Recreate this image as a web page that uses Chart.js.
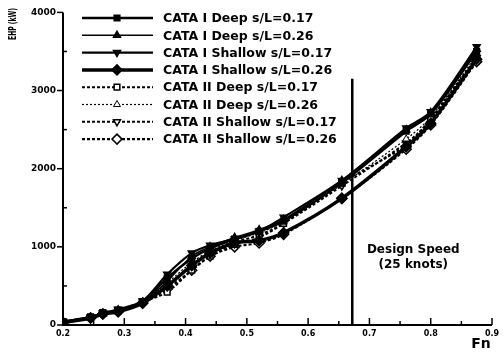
<!DOCTYPE html>
<html>
<head>
<meta charset="utf-8">
<script src="https://cdn.jsdelivr.net/npm/chart.js@4"></script>
<style>
  html, body { margin: 0; padding: 0; background: #fff; }
  #wrap { width: 504px; height: 353px; }
</style>
</head>
<body>
<div id="wrap"><canvas id="ehpChart" width="504" height="353"></canvas></div>
<script>
// Froude numbers where each hull was measured
const fnValues = [0.2, 0.245, 0.265, 0.29, 0.33, 0.37, 0.41, 0.44, 0.48, 0.52, 0.56, 0.655, 0.76, 0.8, 0.875];

// EHP (kW) per configuration
const cataIDeep17    = [40, 100, 150, 180, 300, 600, 850, 980, 1100, 1200, 1330, 1820, 2480, 2700, 3500];
const cataIDeep26    = [40, 95, 145, 190, 290, 560, 880, 1000, 1120, 1220, 1350, 1850, 2500, 2720, 3530];
const cataIShal17    = [45, 100, 150, 200, 310, 650, 920, 1020, 1100, 1200, 1380, 1850, 2520, 2730, 3560];
const cataIShal26    = [30, 90, 140, 170, 280, 500, 760, 920, 1050, 1080, 1180, 1620, 2280, 2580, 3400];
const cataIIDeep17   = [40, 100, 160, 190, 300, 420, 700, 880, 1030, 1120, 1300, 1820, 2300, 2640, 3420];
const cataIIDeep26   = [40, 95, 155, 200, 300, 540, 800, 950, 1080, 1180, 1320, 1800, 2380, 2660, 3450];
const cataIIShal17   = [40, 100, 150, 190, 290, 480, 760, 920, 1060, 1150, 1300, 1780, 2330, 2620, 3420];
const cataIIShal26   = [30, 90, 140, 170, 280, 460, 700, 880, 1000, 1050, 1160, 1620, 2250, 2560, 3370];

const seriesLabels = [
  "CATA I Deep s/L=0.17", "CATA I Deep s/L=0.26",
  "CATA I Shallow s/L=0.17", "CATA I Shallow s/L=0.26",
  "CATA II Deep s/L=0.17", "CATA II Deep s/L=0.26",
  "CATA II Shallow s/L=0.17", "CATA II Shallow s/L=0.26"
];

// design speed marker
const designFn = 0.672;
const designEhp = [0, 3150];
const designText = ["Design Speed", "(25 knots)"];

const xTicks = [0.2, 0.3, 0.4, 0.5, 0.6, 0.7, 0.8, 0.9];
const yTicks = [0, 1000, 2000, 3000, 4000];

const FONT = "'DejaVu Sans', Arial, sans-serif";

function pts(vals) {
  return fnValues.map((f, i) => ({ x: f, y: vals[i] }));
}

function series(label, vals, style) {
  return Object.assign({
    label: label,
    data: pts(vals),
    borderColor: "#000",
    pointBorderColor: "#000",
    pointBorderWidth: 1.5,
    pointRadius: 4,
    tension: 0.3,
    fill: false
  }, style);
}

const datasets = [
  series(seriesLabels[0], cataIDeep17, { borderWidth: 2.5, pointStyle: "rect", pointBackgroundColor: "#000" }),
  series(seriesLabels[1], cataIDeep26, { borderWidth: 1.5, pointStyle: "triangle", pointBackgroundColor: "#000" }),
  series(seriesLabels[2], cataIShal17, { borderWidth: 2.2, pointStyle: "triangle", pointRotation: 180, pointBackgroundColor: "#000" }),
  series(seriesLabels[3], cataIShal26, { borderWidth: 3.5, pointStyle: "rectRot", pointRadius: 5, pointBackgroundColor: "#000" }),
  series(seriesLabels[4], cataIIDeep17, { borderWidth: 2, borderDash: [3, 2], pointStyle: "rect", pointBackgroundColor: "#fff" }),
  series(seriesLabels[5], cataIIDeep26, { borderWidth: 1.2, borderDash: [2, 2], pointStyle: "triangle", pointBackgroundColor: "#fff", pointBorderWidth: 1 }),
  series(seriesLabels[6], cataIIShal17, { borderWidth: 2, borderDash: [3, 2], pointStyle: "triangle", pointRotation: 180, pointBackgroundColor: "#fff" }),
  series(seriesLabels[7], cataIIShal26, { borderWidth: 2.2, borderDash: [3, 2], pointStyle: "rectRot", pointRadius: 5, pointBackgroundColor: "#fff" }),
  {
    label: "design",
    data: designEhp.map(v => ({ x: designFn, y: v })),
    borderColor: "#000",
    borderWidth: 2.5,
    pointRadius: 0,
    fill: false
  }
];

// legend, ticks, titles and annotation drawn by hand
const decorPlugin = {
  id: "decor",
  afterDraw(chart) {
    const ctx = chart.ctx;
    const xs = chart.scales.x, ys = chart.scales.y;
    const area = chart.chartArea;
    ctx.save();
    ctx.strokeStyle = "#000";
    ctx.fillStyle = "#000";

    // axes
    ctx.lineWidth = 2;
    ctx.beginPath();
    ctx.moveTo(area.left, area.top);
    ctx.lineTo(area.left, area.bottom);
    ctx.lineTo(area.right, area.bottom);
    ctx.stroke();

    // x ticks (inward)
    ctx.lineWidth = 1.5;
    for (let v = 0.2; v <= 0.9001; v += 0.05) {
      const px = xs.getPixelForValue(v);
      const major = Math.abs(v * 10 - Math.round(v * 10)) < 0.01;
      ctx.beginPath();
      ctx.moveTo(px, area.bottom);
      ctx.lineTo(px, area.bottom - (major ? 7 : 4));
      ctx.stroke();
    }
    // y ticks
    for (let v = 0; v <= 4000; v += 500) {
      const py = ys.getPixelForValue(v);
      ctx.beginPath();
      if (v % 1000 === 0) {
        ctx.moveTo(area.left - 6, py);
        ctx.lineTo(area.left, py);
      } else {
        ctx.moveTo(area.left, py);
        ctx.lineTo(area.left + 4, py);
      }
      ctx.stroke();
    }

    // y axis title (condensed, near the top like the original)
    ctx.save();
    ctx.translate(13, 24);
    ctx.rotate(-Math.PI / 2);
    ctx.scale(0.55, 1);
    ctx.font = "bold 11px " + FONT;
    ctx.textAlign = "center";
    ctx.textBaseline = "middle";
    ctx.fillText("EHP (kW)", 0, 0);
    ctx.restore();

    // x axis title
    ctx.font = "bold 14px " + FONT;
    ctx.textAlign = "center";
    ctx.textBaseline = "middle";
    ctx.fillText("Fn", 481, 344);

    // design speed label
    const dx = xs.getPixelForValue(designFn) + 61;
    ctx.font = "bold 12px " + FONT;
    ctx.fillText(designText[0], dx, ys.getPixelForValue(960));
    ctx.fillText(designText[1], dx, ys.getPixelForValue(770));

    // legend
    const rowY0 = 18, rowStep = 17.3;
    chart.data.datasets.slice(0, 8).forEach((ds, i) => {
      const y = rowY0 + i * rowStep;
      ctx.save();
      ctx.lineWidth = ds.borderWidth;
      ctx.setLineDash(ds.borderDash || []);
      ctx.beginPath();
      ctx.moveTo(82, y);
      ctx.lineTo(153, y);
      ctx.stroke();
      ctx.restore();
      ctx.save();
      ctx.fillStyle = ds.pointBackgroundColor;
      ctx.strokeStyle = "#000";
      ctx.lineWidth = ds.pointBorderWidth;
      Chart.helpers.drawPoint(ctx, {
        pointStyle: ds.pointStyle,
        rotation: ds.pointRotation || 0,
        radius: ds.pointRadius,
        borderWidth: ds.pointBorderWidth
      }, 117, y);
      ctx.restore();
      ctx.font = "bold 12.5px " + FONT;
      ctx.textAlign = "left";
      ctx.textBaseline = "middle";
      ctx.fillStyle = "#000";
      ctx.fillText(ds.label, 163, y + 1);
    });
    ctx.restore();
  }
};

new Chart(document.getElementById("ehpChart").getContext("2d"), {
  type: "line",
  data: { datasets: datasets },
  options: {
    responsive: false,
    animation: false,
    layout: { padding: { top: 10, right: 12, left: 0, bottom: 0 } },
    plugins: { legend: { display: false }, tooltip: { enabled: false } },
    scales: {
      x: {
        type: "linear",
        min: 0.2,
        max: 0.9,
        grid: { display: false, drawTicks: false },
        border: { display: false },
        afterFit: s => { s.height = 28; },
        afterBuildTicks: s => { s.ticks = xTicks.map(v => ({ value: v })); },
        ticks: {
          padding: 4,
          color: "#000",
          font: { family: FONT, size: 8, weight: "bold" },
          callback: v => v.toFixed(1)
        }
      },
      y: {
        min: 0,
        max: 4000,
        grid: { display: false, drawTicks: false },
        border: { display: false },
        afterFit: s => { s.width = 63; },
        afterBuildTicks: s => { s.ticks = yTicks.map(v => ({ value: v })); },
        ticks: {
          padding: 7,
          color: "#000",
          font: { family: FONT, size: 9, weight: "bold" },
          callback: v => String(v)
        }
      }
    }
  },
  plugins: [decorPlugin]
});
</script>
</body>
</html>
